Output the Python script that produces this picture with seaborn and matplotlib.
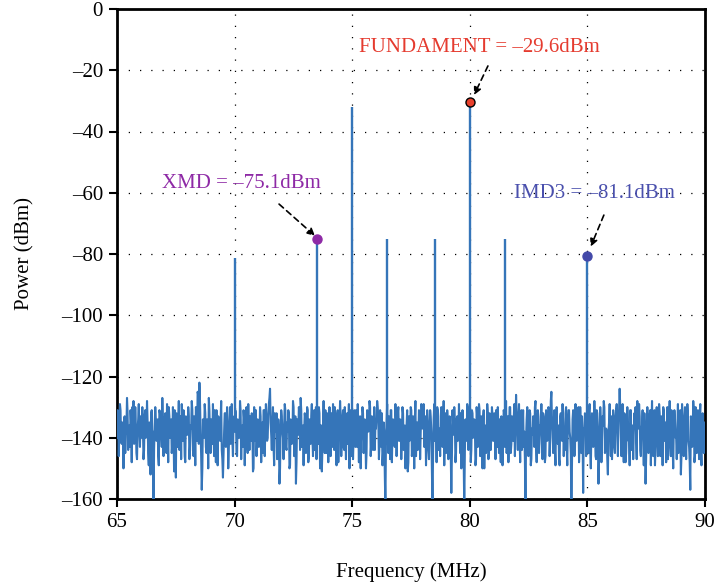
import numpy as np
import pandas as pd
import matplotlib
matplotlib.use("Agg")
import matplotlib.pyplot as plt
from matplotlib.ticker import FuncFormatter
import seaborn as sns

# ---------------- data ----------------
freq_start, freq_stop = 65.0, 90.0
# noise floor samples (even samples)
noise_dbm = [
    -140, -133, -138, -131, -142, -136, -134, -145, -137, -132, -139, -143, -135, -130, -128, -141, -136, -147, -134, -138,
    -133, -140, -136, -144, -131, -138, -135, -149, -137, -132, -141, -163, -136, -134, -139, -146, -131, -137, -143, -135,
    -138, -132, -145, -136, -130, -140, -134, -142, -137, -131, -153, -139, -135, -144, -133, -129, -141, -136, -148, -134,
    -139, -133, -143, -137, -131, -146, -135, -130, -141, -126, -122, -138, -157, -134, -140, -132, -145, -136, -127, -139,
    -134, -142, -137, -131, -148, -136, -133, -140, -135, -144, -153, -138, -132, -139, -136, -143, -130, -137, -141, -134,
    -138, -132, -146, -135, -140, -131, -137, -143, -134, -139, -130, -145, -136, -133, -141, -137, -150, -135, -131, -139,
    -136, -142, -133, -138, -145, -131, -137, -134, -140, -129, -124, -139, -135, -143, -132, -138, -147, -134, -155, -137,
    -133, -140, -136, -131, -144, -138, -132, -149, -135, -141, -130, -137, -155, -134, -139, -132, -127, -143, -136, -138,
    -134, -141, -131, -146, -137, -133, -140, -135, -144, -130, -138, -142, -132, -136, -151, -134, -139, -131, -145, -137,
    -135, -140, -132, -143, -137, -130, -141, -134, -148, -136, -133, -139, -131, -144, -138, -135, -142, -129, -137, -146,
    -133, -139, -135, -131, -143, -137, -134, -150, -136, -132, -140, -138, -145, -133, -136, -130, -141, -135, -139, -144,
    -137, -128, -134, -142, -136, -132, -145, -138, -163, -135, -140, -133, -147, -131, -139, -136, -143, -134, -138, -130,
    -141, -135, -138, -132, -144, -150, -136, -151, -133, -139, -131, -142, -137, -134, -146, -135, -140, -132, -138, -130,
    -136, -143, -133, -139, -135, -147, -131, -138, -163, -134, -141, -136, -130, -144, -137, -133, -140, -135, -149, -132,
    -138, -134, -142, -136, -158, -131, -139, -135, -145, -133, -140, -137, -132, -143, -136, -163, -134, -141, -130, -138,
    -135, -144, -132, -139, -136, -147, -133, -138, -131, -142, -137, -134, -150, -136, -140, -132, -145, -135, -139, -133,
    -141, -136, -131, -143, -138, -134, -148, -135, -140, -132, -137, -145, -133, -139, -130, -142, -136, -134, -146, -126,
    -137, -133, -140, -135, -144, -131, -138, -163, -134, -141, -136, -132, -147, -139, -135, -130, -143, -137, -133, -140,
    -136, -142, -132, -139, -146, -134, -137, -131, -140, -125, -138, -135, -144, -133, -139, -136, -149, -132, -141, -135,
    -138, -132, -143, -136, -131, -140, -163, -134, -139, -145, -135, -137, -130, -142, -136, -133, -158, -138, -134, -141,
    -136, -131, -144, -138, -133, -140, -135, -147, -132, -155, -137, -134, -141, -136, -130, -143, -138, -152, -135, -139,
    -133, -140, -136, -145, -131, -138, -134, -124, -139, -135, -142, -132, -148, -137, -134, -140, -131, -144, -136, -138,
    -135, -141, -128, -137, -133, -146, -136, -139, -132, -155, -138, -134, -143, -131, -137, -140, -135, -149, -133, -139,
    -136, -132, -144, -138, -130, -141, -135, -137, -147, -133, -139, -131, -143, -136, -134, -140, -138, -145, -132, -152,
    -129, -137, -134, -141, -136, -132, -143, -157, -135, -139, -131, -146, -137, -134, -140, -133, -144, -136, -138, -135,
]
# noise floor samples (odd samples, between the even ones)
noise_dbm_mid = [
    -131, -146, -129, -141, -135, -150, -133, -139, -127, -144, -136, -131, -148, -134, -142, -130, -145, -137, -129, -143,
    -136, -130, -147, -133, -140, -128, -145, -135, -152, -131, -138, -144, -130, -141, -134, -149, -132, -139, -127, -146,
    -134, -141, -129, -148, -133, -137, -145, -130, -151, -136, -132, -143, -128, -140, -147, -135, -131, -146, -133, -139,
    -130, -147, -136, -128, -144, -133, -149, -131, -125, -142, -128, -146, -150, -137, -129, -143, -134, -150, -131, -145,
    -138, -129, -146, -135, -131, -149, -134, -141, -128, -147, -145, -132, -143, -130, -150, -135, -142, -129, -146, -133,
    -131, -145, -134, -140, -128, -147, -136, -131, -149, -133, -142, -129, -144, -138, -132, -151, -130, -141, -146, -134,
    -143, -130, -148, -135, -131, -146, -129, -141, -133, -127, -135, -144, -130, -149, -136, -132, -145, -140, -150, -131,
    -138, -147, -129, -143, -135, -131, -150, -134, -142, -128, -146, -133, -148, -139, -130, -144, -131, -137, -149, -132,
    -145, -130, -148, -134, -142, -129, -146, -131, -138, -147, -133, -130, -150, -136, -143, -128, -145, -136, -132, -148,
    -130, -146, -137, -129, -144, -133, -149, -131, -140, -128, -146, -134, -143, -130, -147, -132, -136, -150, -131, -141,
    -147, -131, -143, -137, -129, -148, -133, -141, -130, -145, -134, -150, -131, -138, -128, -146, -133, -144, -130, -136,
    -133, -130, -147, -131, -143, -149, -135, -152, -140, -129, -145, -137, -131, -148, -134, -142, -129, -146, -132, -141,
    -134, -147, -130, -144, -136, -145, -131, -148, -141, -130, -146, -133, -150, -128, -139, -144, -131, -147, -129, -137,
    -129, -138, -149, -131, -144, -137, -133, -150, -145, -129, -136, -148, -131, -139, -146, -130, -143, -128, -137, -145,
    -131, -147, -133, -145, -146, -137, -130, -148, -134, -141, -129, -145, -150, -131, -147, -145, -138, -129, -144, -132,
    -148, -131, -140, -134, -149, -130, -143, -129, -146, -133, -150, -131, -138, -145, -129, -147, -132, -144, -130, -141,
    -132, -147, -134, -130, -145, -141, -133, -149, -131, -143, -128, -139, -148, -130, -145, -133, -141, -129, -137, -133,
    -144, -129, -148, -131, -137, -143, -147, -140, -130, -146, -131, -149, -137, -133, -143, -128, -148, -131, -145, -136,
    -129, -147, -133, -148, -131, -141, -130, -146, -128, -134, -145, -131, -149, -130, -142, -147, -133, -140, -129, -146,
    -144, -130, -149, -131, -138, -145, -147, -131, -146, -129, -141, -133, -148, -130, -145, -140, -137, -132, -146, -130,
    -145, -129, -150, -132, -143, -128, -146, -131, -140, -147, -130, -148, -133, -128, -145, -137, -147, -138, -129, -146,
    -147, -131, -143, -133, -129, -146, -131, -130, -146, -129, -148, -133, -145, -130, -141, -149, -131, -140, -147, -132,
    -130, -147, -132, -129, -144, -137, -131, -149, -140, -146, -130, -145, -133, -149, -128, -146, -131, -143, -130, -146,
    -129, -146, -133, -149, -131, -137, -148, -130, -143, -128, -146, -133, -150, -131, -140, -147, -129, -143, -131, -146,
    -134, -146, -130, -147, -129, -141, -148, -133, -143, -128, -148, -130, -145, -131, -147, -129, -149, -132, -145, -139,
]
spike_freq = [70.0, 73.5, 75.0, 76.5, 78.5, 80.0, 81.5, 85.0]
spike_dbm = [-81.3, -75.1, -32.0, -75.0, -75.0, -30.5, -75.0, -80.6]
spike_floor = -138.0

marked_freq = [73.5, 80.0, 85.0]
marked_dbm = [-75.1, -30.5, -80.6]
marked_text = ["XMD = \u201375.1dBm", "FUNDAMENT = \u201329.6dBm", "IMD3 = \u201381.1dBm"]
marked_color = ["#8e2aa6", "#e8402c", "#4349a9"]
text_color = ["#8e2aa6", "#e53b2f", "#4a50ad"]
text_pos = [(70.3, -57.1), (80.39, -12.7), (85.28, -60.1)]
arrow_from = [(71.89, -63.7), (80.77, -18.6), (85.70, -67.3)]
arrow_to = [(73.42, -74.1), (80.18, -28.1), (85.14, -77.6)]

x_ticks = [65, 70, 75, 80, 85, 90]
y_ticks = [0, -20, -40, -60, -80, -100, -120, -140, -160]

# ---------------- plot ----------------
sns.set_theme(style="ticks")
plt.rcParams["font.family"] = ["Liberation Serif", "DejaVu Serif"]
plt.rcParams["axes.unicode_minus"] = True

line_color = "#3575b9"
all_noise = np.column_stack([noise_dbm, noise_dbm_mid]).ravel()
freqs = np.linspace(freq_start, freq_stop, len(all_noise))
df = pd.DataFrame({"freq": freqs, "dbm": all_noise})

fig = plt.figure(figsize=(7.14, 5.86), dpi=100)
ax = fig.add_axes([117 / 714, 87 / 586, 588 / 714, 490 / 586])

sns.lineplot(data=df, x="freq", y="dbm", ax=ax, color=line_color, lw=1.5,
             estimator=None, sort=False, zorder=3)
ax.vlines(spike_freq, spike_floor, spike_dbm, color=line_color, lw=1.7, zorder=3)

for i in range(len(marked_freq)):
    ec = "black" if i == 1 else marked_color[i]
    ax.plot(marked_freq[i], marked_dbm[i], "o", ms=6.5, mfc=marked_color[i],
            mec=ec, mew=1.0, zorder=5)
    ax.annotate("", xy=arrow_to[i], xytext=arrow_from[i],
                arrowprops=dict(arrowstyle="-|>", color="black", lw=1.2,
                                ls=(0, (3.5, 2.5)), mutation_scale=11,
                                shrinkA=0, shrinkB=0), zorder=6)
    ax.text(text_pos[i][0], text_pos[i][1], marked_text[i], color=text_color[i],
            fontsize=15, ha="center", va="center", zorder=6)

ax.set_xlim(freq_start, freq_stop)
ax.set_ylim(-160, 0)
ax.set_xticks(x_ticks)
ax.set_yticks(y_ticks)
fmt = FuncFormatter(lambda v, p: f"{v:g}".replace("-", "\u2013"))
ax.xaxis.set_major_formatter(fmt)
ax.yaxis.set_major_formatter(fmt)
ax.tick_params(axis="both", direction="out", length=6, width=1.5,
               labelsize=15, color="black", labelcolor="black", pad=4)
ax.grid(True, color="black", ls=(0, (1, 8)), lw=0.9)
for s in ax.spines.values():
    s.set_visible(True)
    s.set_linewidth(2.0)
    s.set_color("black")
ax.set_xlabel("Frequency (MHz)", fontsize=15, labelpad=22, color="black")
ax.set_ylabel("Power (dBm)", fontsize=15, labelpad=19, color="black")

fig.savefig("out.png", dpi=100)
